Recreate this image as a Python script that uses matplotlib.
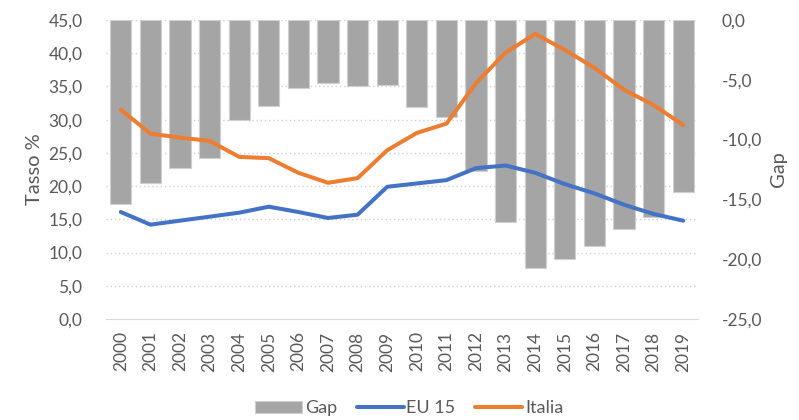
import matplotlib.pyplot as plt
from matplotlib.ticker import FuncFormatter

plt.rcParams['font.family'] = ['Lato', 'DejaVu Sans']

years = [str(y) for y in range(2000, 2020)]
gap = [-15.4, -13.6, -12.4, -11.5, -8.4, -7.2, -5.7, -5.3, -5.5, -5.4,
       -7.3, -8.1, -12.6, -16.9, -20.7, -20.0, -18.9, -17.5, -16.5, -14.4]
eu15 = [16.1, 14.2, 14.8, 15.4, 16.0, 16.9, 16.1, 15.2, 15.7, 19.9,
        20.4, 20.9, 22.7, 23.1, 22.0, 20.3, 18.9, 17.2, 15.8, 14.8]
italia = [31.5, 27.9, 27.3, 26.8, 24.4, 24.2, 22.0, 20.5, 21.2, 25.4,
          28.0, 29.4, 35.5, 40.1, 42.9, 40.5, 37.8, 34.5, 32.2, 29.2]

txt = '#595959'
comma = FuncFormatter(lambda v, p: f'{v:.1f}'.replace('.', ','))

fig, ax = plt.subplots(figsize=(7.99, 4.2), dpi=100)
fig.subplots_adjust(left=0.1327, right=0.8736, top=0.9524, bottom=0.2405)
ax2 = ax.twinx()

# bars on the right axis, behind the lines
x = range(len(years))
b = ax2.bar(x, gap, width=0.72, color='#A5A5A5', edgecolor='#D0D0D0',
            linewidth=0.8, label='Gap', zorder=2)
ax2.set_ylim(-25, 0)
ax2.set_yticks(range(-25, 1, 5))
ax2.yaxis.set_major_formatter(comma)
ax2.set_ylabel('Gap', color=txt, fontsize=14.5, rotation=90, labelpad=6)

ax.set_zorder(ax2.get_zorder() + 1)
ax.patch.set_visible(False)
l1, = ax.plot(x, eu15, color='#4472C4', lw=2.9, label='EU 15', solid_capstyle='round')
l2, = ax.plot(x, italia, color='#ED7D31', lw=2.9, label='Italia', solid_capstyle='round')
ax.set_ylim(0, 45)
ax.set_yticks(range(0, 46, 5))
ax.yaxis.set_major_formatter(comma)
ax.set_xlim(-0.5, len(years) - 0.5)
ax.set_xticks(list(x))
ax.set_xticklabels(years, rotation=90)
ax.set_ylabel('Tasso %', color=txt, fontsize=14.5, labelpad=4)

# dotted grid drawn on the back axis so it sits behind the bars
for v in range(5, 46, 5):
    ax2.axhline(-25 + v * 25 / 45, color='#D0D0D0', lw=1.0, ls=(0, (1, 2)), zorder=0)

for a in (ax, ax2):
    for s in a.spines.values():
        s.set_visible(False)
    a.tick_params(length=0, colors=txt, labelsize=12.5)
ax.spines['bottom'].set_visible(True)
ax.spines['bottom'].set_color('#D9D9D9')
ax.tick_params(axis='y', pad=17)
ax2.tick_params(axis='y', pad=17)
ax.tick_params(axis='x', pad=9)

leg = fig.legend([b, l1, l2], ['Gap', 'EU 15', 'Italia'], loc='lower center',
                 bbox_to_anchor=(0.512, -0.03), ncol=3, frameon=False,
                 fontsize=13, handlelength=2.6, handletextpad=0.15, columnspacing=1.1)
for t in leg.get_texts():
    t.set_color(txt)

fig.savefig('out.png', dpi=100)
